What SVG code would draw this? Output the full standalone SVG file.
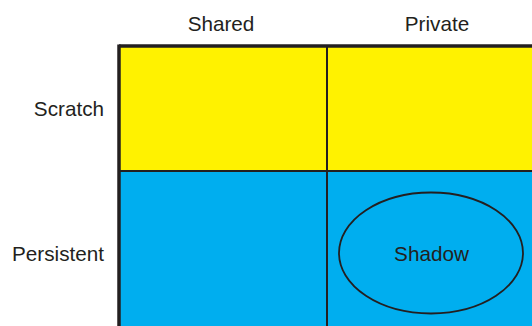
<svg xmlns="http://www.w3.org/2000/svg" width="532" height="326" viewBox="0 0 532 326">
<style>
text{font-family:"Liberation Sans",Arial,sans-serif;font-size:20.7px;fill:#231f20}
.ln{stroke:#231f20;fill:none}
</style>
<rect width="532" height="326" fill="#fff"/>
<g id="cell-scratch">
<rect x="119" y="46" width="420" height="125" fill="#fff200"/>
</g>
<g id="cell-persistent">
<rect x="119" y="171" width="420" height="160" fill="#00aeef"/>
</g>
<g id="grid">
<line class="ln" x1="119" y1="46" x2="540" y2="46" stroke-width="3.5"/>
<line class="ln" x1="119" y1="44.5" x2="119" y2="330" stroke-width="3.5"/>
<line class="ln" x1="327" y1="46" x2="327" y2="330" stroke-width="2"/>
<line class="ln" x1="119" y1="171" x2="540" y2="171" stroke-width="1.8"/>
</g>
<g id="labels">
<text x="221" y="31" text-anchor="middle">Shared</text>
<text x="437" y="31" text-anchor="middle">Private</text>
<text x="104" y="116" text-anchor="end">Scratch</text>
<text x="104" y="261" text-anchor="end">Persistent</text>
</g>
<g id="shadow">
<ellipse class="ln" cx="431" cy="253" rx="92" ry="60.5" stroke-width="1.8"/>
<text x="431.5" y="261" text-anchor="middle">Shadow</text>
</g>
</svg>
